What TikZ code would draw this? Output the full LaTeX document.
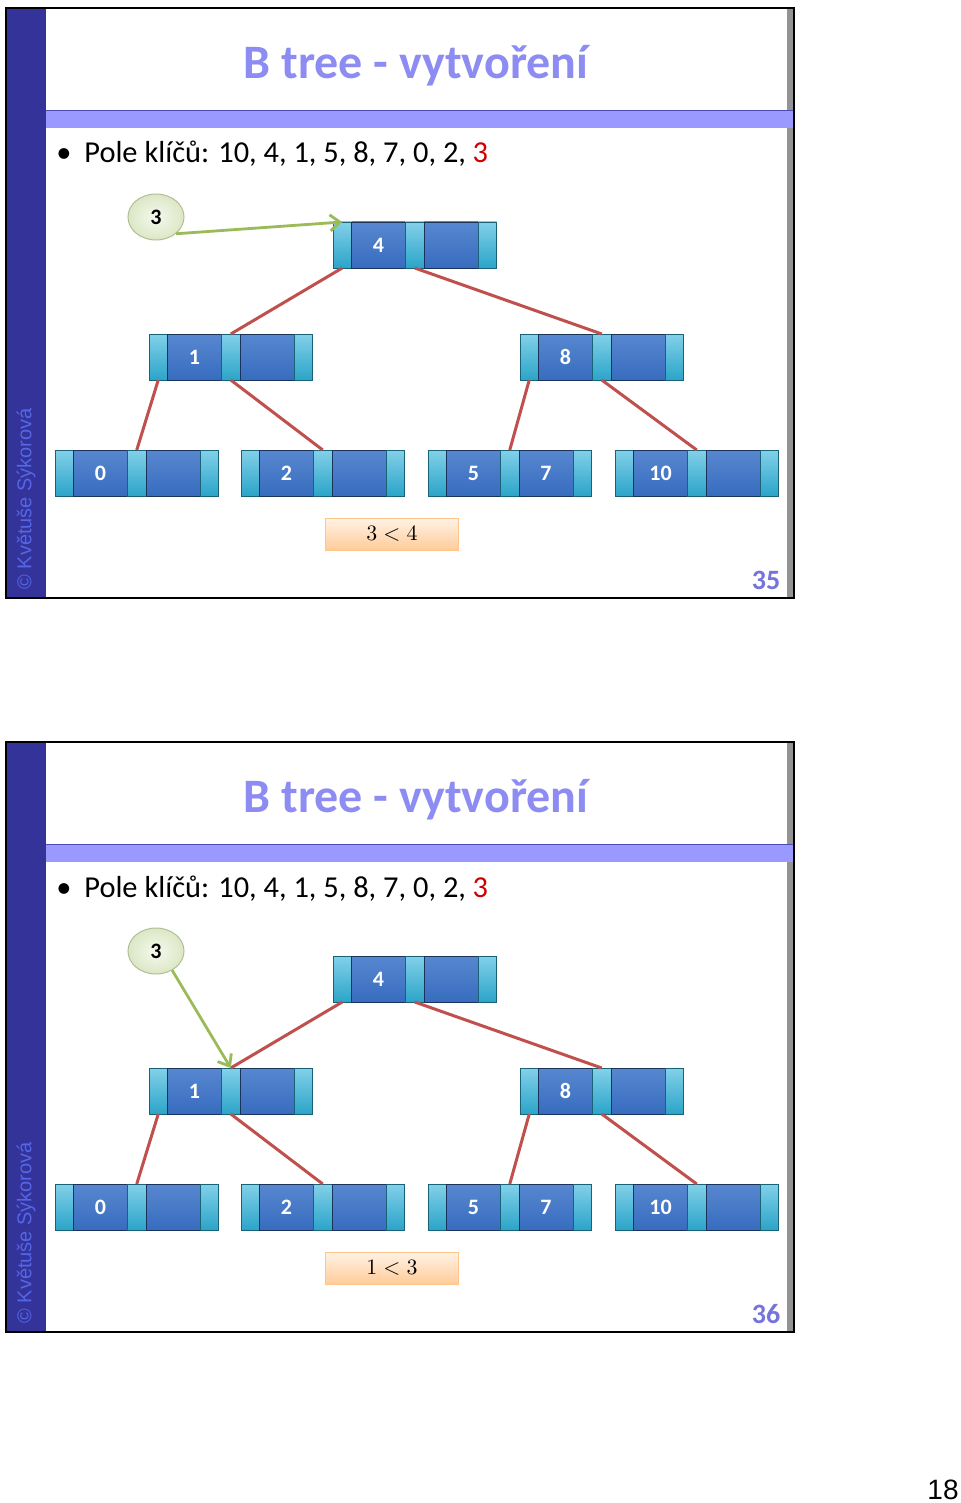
\documentclass[tikz,border=0pt]{standalone}
\usepackage{fontspec}
\setmainfont{Carlito}
\newfontfamily\arialfont{Liberation Sans}
\usetikzlibrary{arrows.meta,calc,positioning,shapes.geometric}

\definecolor{slidenavy}{HTML}{333399}
\definecolor{bandlav}{HTML}{9999FF}
\definecolor{titlelav}{HTML}{8C8CF2}
\definecolor{numlav}{HTML}{7474DA}
\definecolor{markblue}{HTML}{5566E6}
\definecolor{ptrcyan}{HTML}{2FB2DA}
\definecolor{keyblue}{HTML}{3A72C8}
\definecolor{edgered}{HTML}{C0504D}
\definecolor{arrowgreen}{HTML}{9BBB59}
\definecolor{keyred}{HTML}{D00000}

\tikzset{
  ptrcell/.style={draw=ptrcyan!55!black, line width=0.3pt, top color=ptrcyan!60!white, bottom color=ptrcyan!92!black,
    minimum width=9.25pt, minimum height=23pt, inner sep=0pt, outer sep=0pt},
  keycell/.style={draw=keyblue!45!black, line width=0.3pt, top color=keyblue!85!white, bottom color=keyblue!95!black,
    minimum width=27pt, minimum height=23pt, inner sep=0pt, outer sep=0pt,
    text=white, font=\fontsize{11}{13}\selectfont\bfseries},
  treeedge/.style={edgered, line width=1.5pt},
  insarrow/.style={arrowgreen, line width=1.4pt, -{Straight Barb[length=5pt,width=8pt]}},
  newkey/.style={ellipse, draw=arrowgreen!60!gray!70!white, line width=0.5pt, inner color=white!90!arrowgreen,
    outer color=arrowgreen!35!white, minimum width=28pt, minimum height=23pt, inner sep=0pt,
    font=\fontsize{11}{13}\selectfont\bfseries},
  cmpbox/.style={draw=orange!45!white, line width=0.5pt, top color=orange!10!white, bottom color=orange!40!white,
    minimum width=66.5pt, minimum height=16pt, inner sep=0pt, font=\fontsize{11}{13}\selectfont},
  slidetitle/.style={text=titlelav, font=\fontsize{24}{28}\selectfont\bfseries, inner sep=0pt},
  bullettext/.style={anchor=base west, inner sep=0pt, font=\fontsize{15.2}{18}\selectfont},
  watermark/.style={anchor=west, rotate=90, inner sep=0pt, text=markblue, font=\arialfont\fontsize{10}{12}\selectfont},
  pagenum/.style={text=numlav, inner sep=0pt, font=\fontsize{14}{16}\selectfont\bfseries}
}

% one B-tree node: name, left, top, key 1, key 2
\newcommand{\btnode}[5]{%
  \node[ptrcell, anchor=north west] (#1-p1) at (#2,#3) {};
  \node[keycell, right=0pt of #1-p1] (#1-k1) {#4};
  \node[ptrcell, right=0pt of #1-k1] (#1-p2) {};
  \node[keycell, right=0pt of #1-p2] (#1-k2) {#5};
  \node[ptrcell, right=0pt of #1-k2] (#1-p3) {};
}

% one slide: prefix, vertical offset, page, comparison
\newcommand{\bslide}[4]{%
  \begin{scope}[shift={(0,#2)}]
    % frame, side strip and band
    \fill[white] (6,8) rectangle (794,598);
    \fill[slidenavy] (6,8) rectangle (46,598);
    \fill[gray!85] (787,8) rectangle (793,598);
    \draw[gray!60!blue, line width=0.4pt] (46,110) -- (793,110);
    \fill[bandlav] (46,111) rectangle (793,128);
    \draw[black, line width=1.2pt] (6,8) rectangle (794,598);
    \node[watermark] (#1-mark) at (26,590) {© Květuše Sýkorová};
    % title and key list
    \node[slidetitle] (#1-title) at (416,66) {B tree - vytvoření};
    \node[bullettext] (#1-dot) at (56,163) {\textbullet};
    \node[bullettext] (#1-keys) at (84,163) {Pole klíčů: 10, 4, 1, 5, 8, 7, 0, 2, \textcolor{keyred}{3}};
    % tree
    \btnode{#1-r}{333}{222}{4}{}
    \btnode{#1-l}{149}{334}{1}{}
    \btnode{#1-rr}{520}{334}{8}{}
    \btnode{#1-l0}{55}{450}{0}{}
    \btnode{#1-l2}{241}{450}{2}{}
    \btnode{#1-l5}{428}{450}{5}{7}
    \btnode{#1-l10}{615}{450}{10}{}
    \draw[treeedge] (#1-r-p1.south) -- (#1-l-p2.north);
    \draw[treeedge] (#1-r-p2.south) -- (#1-rr-p2.north);
    \draw[treeedge] (#1-l-p1.south) -- (#1-l0-p2.north);
    \draw[treeedge] (#1-l-p2.south) -- (#1-l2-p2.north);
    \draw[treeedge] (#1-rr-p1.south) -- (#1-l5-p2.north);
    \draw[treeedge] (#1-rr-p2.south) -- (#1-l10-p2.north);
    % key being inserted and comparison
    \node[newkey] (#1-ins) at (156,217) {3};
    \node[cmpbox] (#1-cmp) at (392,534) {$#4$};
    \node[pagenum] (#1-num) at (766,580) {#3};
  \end{scope}}

\begin{document}
\begin{tikzpicture}[x=0.5pt, y=-0.5pt]
  \useasboundingbox (0,0) rectangle (960,1503);
  \bslide{a}{0}{35}{3 < 4}
  \bslide{b}{734}{36}{1 < 3}
  % insertion arrows
  \draw[insarrow] (a-ins.320) -- (a-r-p1.north);
  \draw[insarrow] (b-ins.310) -- (b-l-p2.north);
  % sheet number
  \node[inner sep=0pt, font=\arialfont\fontsize{14}{16}\selectfont] (sheet) at (943,1490) {18};
\end{tikzpicture}
\end{document}
